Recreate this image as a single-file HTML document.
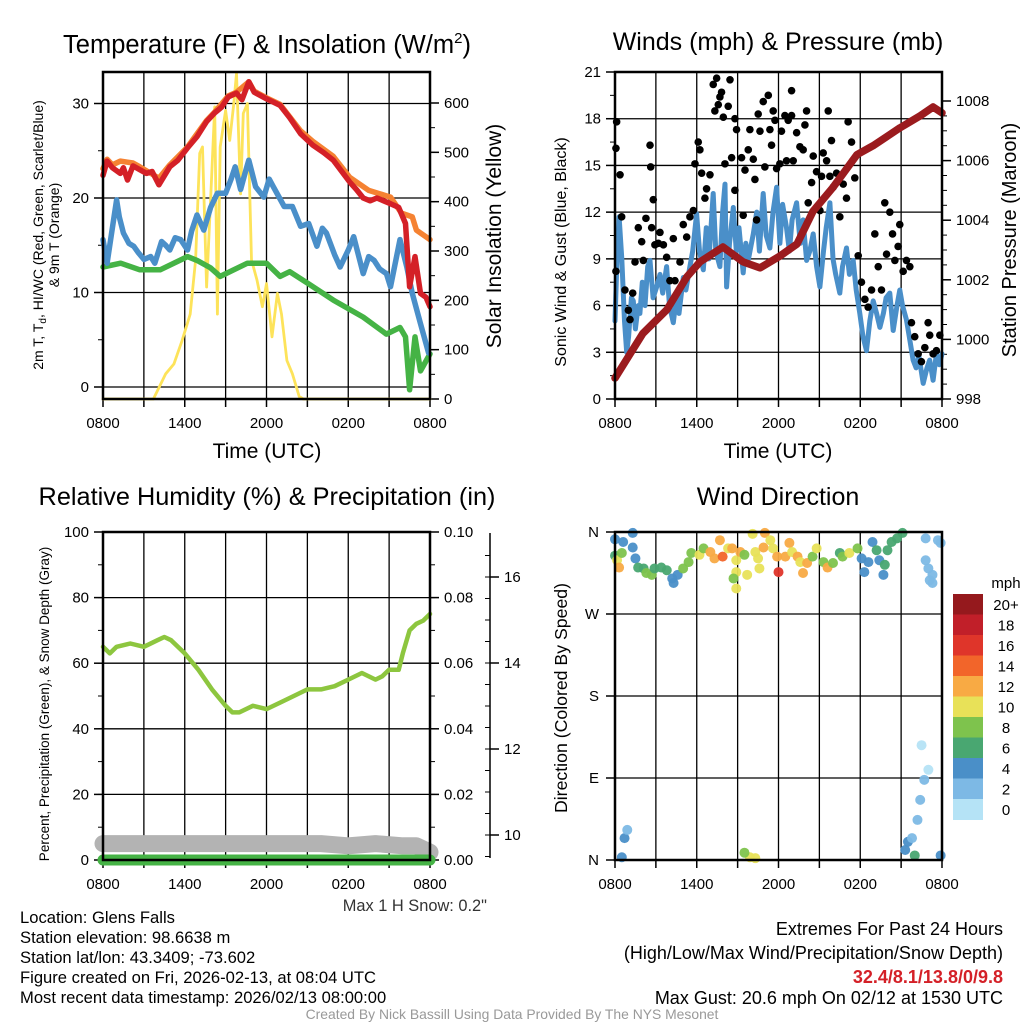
<!DOCTYPE html>
<html><head><meta charset="utf-8"><style>
html,body{margin:0;padding:0;background:#fff;}
svg{display:block;font-family:"Liberation Sans",Arial,sans-serif;}
</style></head><body>
<svg id="c" width="1024" height="1024" viewBox="0 0 1024 1024"></svg>
<script>
// ---------- DATA ----------
const tHours=[0,0.3,0.7,1.27,1.5,1.8,2.2,2.7,3.2,3.6,4.1,4.9,5.5,6.2,6.9,7.6,8.2,8.7,9.2,9.8,10.2,10.7,11.1,12,13,13.7,14.5,15.4,16.2,16.9,18.1,18.6,19.1,19.6,20.1,21.1,21.7,22.2,22.5,22.9,23.3,23.7,24];
const tempRed=[22.4,23.9,23.2,22.6,23.2,21.9,23.4,23,22.6,22.8,21.4,23.3,24,25.3,26.5,28.1,29,29.6,30.7,31.1,30.4,32.3,31.2,30.5,29.8,28.5,26.8,25.6,24.8,24,21.7,20.9,20,19.7,20,19.4,19,17.3,10.6,13.8,9.9,9.5,8.5];
const oHours=[0,0.3,0.7,1.27,2.2,2.7,4.1,4.9,6.2,7.6,8.2,9.2,9.8,10.7,11.1,12,13,14.5,15.4,16.9,18.1,19.5,21.1,21.9,22.7,23,24];
const temp9m=[23.1,24.1,23.5,23.9,23.7,23.3,22.1,23.5,25.4,28.2,29.1,30.8,31.2,32.3,31.3,30.6,29.9,27.1,26,24.4,22.2,20.8,20.1,18.4,18,16.6,15.6];
const dHours=[0,0.3,0.6,1,1.2,1.5,1.9,2.25,2.6,3,3.5,3.8,4.3,4.6,4.9,5.3,5.7,6.2,6.5,6.9,7.4,7.9,8.4,9,9.4,9.7,10.1,10.4,10.7,11.2,11.8,12.2,12.5,13.3,13.9,14.5,15.1,15.7,16.1,16.4,17,17.4,18,18.4,19.1,19.5,19.9,20.3,20.8,21.1,21.8,22.3,22.7,23.3,23.9];
const dewBlue=[15.6,13.1,16,19.8,18,16.3,15.2,14.9,14.2,13.5,13.8,13.1,15.4,15,14.5,15.8,15.6,14.5,16.5,18.2,16.6,19,20.5,20.5,22,23.3,20.9,22.5,24,21.2,20.1,22,21.2,19.1,19.1,17,17.3,14.9,16.8,16.3,14,12.7,14.5,15.9,12,13.8,13.4,12.5,12,10.6,15.6,12.7,9.9,6.7,3.6];
const gHours=[0,1.3,2.7,4.2,6.2,6.9,7.9,8.6,10.6,12,13,13.7,15,16.9,19.1,20.8,21.8,22.2,22.5,22.9,23.3,24];
const windChill=[12.7,13.1,12.4,12.4,13.8,13.4,12.6,11.7,13.1,13.1,11.7,12.2,11,9.2,7.4,5.6,6.3,5.3,-0.3,5.3,1.7,3.5];
const sHours=[0,3.7,4.6,5.2,5.8,6.4,6.8,7.1,7.3,7.6,7.9,8.2,8.4,8.6,9,9.3,9.6,9.8,10.1,10.3,10.6,10.9,11.3,11.7,12,12.4,12.8,13.1,13.5,13.9,14.4,14.7,24];
const solar=[0,0,51,71,118,172,282,498,511,227,403,592,172,511,585,524,599,660,416,579,599,282,241,187,234,126,214,172,78,51,5,0,0];
const p1LeftTicks=[0,10,20,30];
const p1RightTicks=[0,100,200,300,400,500,600];
const timeLabels=["0800","1400","2000","0200","0800"];

const wHours=[0,0.15,0.3,0.5,0.7,0.86,1.0,1.2,1.34,1.5,1.7,1.83,2.0,2.2,2.4,2.57,2.8,3.06,3.3,3.5,3.79,4.0,4.28,4.5,4.7,5.01,5.2,5.5,5.7,5.99,6.2,6.48,6.7,6.9,7.21,7.4,7.7,7.9,8.07,8.19,8.4,8.68,8.9,9.1,9.41,9.6,9.8,10.15,10.4,10.6,10.88,11.1,11.37,11.6,11.86,12.1,12.3,12.59,12.8,13.0,13.33,13.6,13.8,14.06,14.3,14.55,14.8,15.04,15.3,15.5,15.77,16.0,16.2,16.5,16.7,16.99,17.2,17.48,17.7,17.97,18.2,18.46,18.7,18.95,19.2,19.44,19.7,19.9,20.17,20.42,20.7,20.9,21.1,21.39,21.6,21.88,22.1,22.3,22.62,22.9,23.1,23.35,23.59,23.8,24];
const windBlue=[5,9,11.7,9,5,3,4,6.5,6.3,4.5,6,5.5,7.5,6,8.5,8.9,6.5,7.2,8,6.8,8.5,6,4.9,6.5,5.5,7.8,7,8.5,9.5,11.9,9.5,8.3,11,9,13.2,9.5,8.5,12,13.8,7.2,10,12.3,9.5,11,8.1,10,9,10.6,12,9.5,13.2,10.5,9.7,12,13.6,10,12.5,11,9.5,11.5,12.6,10,11.5,8.9,9.5,10.6,8.5,7.2,9.5,11,12.6,9,8,6.8,8.5,9.7,8,8.9,7,5.5,4,3.1,5,6.3,5.5,4.6,5.5,6.5,6.8,4.4,6,7,6,5.1,4,2.5,2,2.8,1,2,2.5,1.2,2.9,2.2,2.9];
const gustHours=[0.12,0.07,0.37,0.49,0.07,0.73,0.98,1.1,1.3,1.47,1.71,1.96,2.08,2.27,2.57,2.62,2.69,2.81,2.93,3.18,3.3,3.55,3.79,4.03,4.28,4.4,4.77,5.01,5.26,5.5,5.75,5.87,6.11,6.23,6.36,6.6,6.72,6.97,7.21,7.46,7.33,7.58,7.82,7.7,7.95,8.07,8.31,8.44,8.56,8.8,8.8,8.92,9.29,9.41,9.54,9.78,9.9,10.15,10.27,10.39,10.51,10.64,10.88,11.0,11.25,11.37,11.49,11.61,11.74,11.86,12.1,12.22,12.47,12.59,12.71,12.96,12.96,13.08,13.33,13.57,13.81,13.94,14.06,14.18,14.43,14.55,14.79,15.04,15.16,15.28,15.53,15.65,15.77,15.89,16.01,16.26,16.5,16.75,16.99,17.11,17.36,17.6,17.85,18.09,18.34,18.58,18.83,19.07,19.32,19.56,19.8,19.93,20.17,20.37,20.54,20.78,20.9,21.15,21.39,21.64,21.76,22.0,22.25,22.49,22.74,22.98,23.1,23.35,23.59,23.84];
const gustBlack=[17.8,16.1,14.4,11.7,8.2,7.0,5.7,5.1,6.8,8.8,11.0,10.1,8.9,11.6,16.3,14.9,11.0,12.8,9.9,10.0,10.7,9.9,9.1,7.6,10.3,7.6,8.8,11.2,10.4,11.7,12.1,15.1,16.5,16.0,14.5,12.9,13.5,14.4,20.2,20.6,18.5,18.9,19.7,19.4,18.1,15.1,18.8,20.5,15.5,13.4,18.0,17.3,15.5,11.8,14.7,16.0,17.3,15.4,14.1,11.5,18.3,17.2,19.1,14.9,19.5,17.3,16.3,18.5,17.9,14.8,15.1,17.2,18.2,15.3,17.9,18.2,19.8,15.3,17.1,16.2,16.0,17.6,18.5,12.6,13.9,15.6,14.6,12.1,14.3,15.8,15.3,18.5,14.3,16.6,13.6,14.5,11.7,13.8,12.9,17.8,16.5,14.2,9.2,7.5,6.4,5.9,7.0,10.6,8.5,7.0,12.6,9.3,12.0,10.6,8.9,9.8,11.2,8.2,8.9,8.5,4.9,4.0,2.9,2.4,3.3,4.9,4.1,2.9,3.1,4.1];
const pHours=[0,2.05,3.82,5.28,6.24,7.93,9.4,10.64,12.11,13.36,14.53,16,17.76,18.94,20.92,22.39,23.35,24];
const pressure=[998.7,1000.2,1001,1002.1,1002.6,1003.1,1002.6,1002.4,1002.8,1003.2,1004.3,1005.1,1006.2,1006.5,1007.1,1007.5,1007.8,1007.6];
const p2LeftTicks=[0,3,6,9,12,15,18,21];
const p2RightTicks=[998,1000,1002,1004,1006,1008];

const rhHours=[0,0.5,1,2,3,4,4.5,5,6,7,8,9,9.5,10,11,12,13,14,15,16,17,18,19,20,20.5,21,21.7,22,22.5,23,23.5,24];
const rhGreen=[65,63,65,66,65,67,68,67,63,58,52,47,45,45,47,46,48,50,52,52,53,55,57,55,56,58,58,63,70,72,73,75];
const precipHours=[0,24];
const precip=[0,0];
const snowHours=[0,10,14,16,18,20,22,23,24];
const snowDepth=[9.8,9.8,9.8,9.8,9.75,9.8,9.75,9.75,9.6];
const p3LeftTicks=[0,20,40,60,80,100];
const p3RightTicks=[0,0.02,0.04,0.06,0.08,0.10];
const snowTicks=[10,12,14,16];

const dirHours=[0,0.6,1.3,0,0.15,0.3,0.5,1.3,1.5,1.7,2.1,2.3,2.7,2.9,3.4,3.8,4.2,4.3,4.6,5.0,5.4,5.6,6.2,6.5,7.0,7.3,7.7,7.9,8.3,8.6,8.9,8.9,8.7,8.9,9.2,9.5,9.7,10.1,10.3,10.6,10.5,11.0,10.9,11.4,11.6,11.9,12.0,12.5,12.8,13.0,13.4,13.6,13.8,14.1,14.5,14.8,15.3,15.6,16.0,16.5,16.7,17.2,17.8,18.1,18.3,18.6,18.9,19.2,19.4,19.7,19.8,20.0,20.3,20.7,21.1,22.8,23.7,23.9,22.8,23.0,23.3,23.1,23.3,0.7,0.9,0.5,9.9,9.5,10.3,21.3,21.5,21.8,22.2,22.4,22.5,22.7,22.0,23.9,23.0];
const dirDeg=[352,349,359,334,329,321,337,343,331,321,320,315,313,320,321,318,309,304,313,320,327,337,335,342,338,331,351,333,342,342,329,316,309,298,338,335,313,358,338,320,331,359,343,351,342,333,316,333,348,338,333,327,315,326,333,342,327,321,326,337,333,337,342,331,316,327,349,340,329,313,324,340,349,353,359,353,351,348,329,320,313,307,304,24,33,3,3,8,2,11,20,24,44,66,126,88,5,5,99];
const dirSpeed=[4,4,4,6,10,12,8,4,4,6,6,8,8,6,6,6,4,4,4,8,8,8,10,8,12,12,12,14,10,12,10,10,8,10,12,8,10,10,10,10,10,12,12,10,10,12,16,12,12,10,12,10,12,12,8,10,8,12,8,6,8,10,8,4,4,4,4,6,4,4,6,6,6,6,6,2,2,2,2,2,2,2,2,4,2,4,10,8,10,4,4,2,2,2,0,2,6,4,0];
const dirTickLabels=["N","E","S","W","N"];
const speedBins=["0","2","4","6","8","10","12","14","16","18","20+"];
const speedColors=["#b5e3f6","#7db9e5","#4a8fc8","#49a771","#7ec34d","#e8e158","#f8aa44","#f2652a","#df352a","#c11f29","#95191d"];

// ---------- DRAWING ----------
const NS="http://www.w3.org/2000/svg";
const svg=document.getElementById('c');
function el(tag,attrs,parent){const e=document.createElementNS(NS,tag);for(const k in attrs)e.setAttribute(k,attrs[k]);(parent||svg).appendChild(e);return e;}
function txt(s,x,y,size,anchor,parent,extra){const t=el('text',Object.assign({x:x,y:y,'font-size':size,'text-anchor':anchor||'middle',fill:'#000'},extra||{}),parent);t.textContent=s;return t;}
function scaleX(P){return h=>P.x0+h*(P.x1-P.x0)/24;}
function lin(d0,d1,r0,r1){return v=>r0+(v-d0)*(r1-r0)/(d1-d0);}
function pathFrom(xs,ys,fx,fy){return xs.map((h,i)=>(i?'L':'M')+fx(h).toFixed(1)+','+fy(ys[i]).toFixed(1)).join('');}

const P1={x0:103,x1:430,y0:72,y1:399},P2={x0:615,x1:942,y0:72,y1:399},P3={x0:103,x1:430,y0:532,y1:860},P4={x0:615,x1:942,y0:532,y1:860};

function frame(P,name,hLines){
  const g=el('g',{});
  
  
  const fx=scaleX(P);
  for(let h=3;h<24;h+=3){el('line',{x1:fx(h),x2:fx(h),y1:P.y0,y2:P.y1,stroke:'#000','stroke-width':1.3},g);}
  hLines.forEach(y=>el('line',{x1:P.x0,x2:P.x1,y1:y,y2:y,stroke:'#000','stroke-width':1.3},g));
  for(let h=0;h<=24;h+=3){el('line',{x1:fx(h),x2:fx(h),y1:P.y1,y2:P.y1+8,stroke:'#000','stroke-width':1.5},g);}
  timeLabels.forEach((s,i)=>{const t=txt(s,fx(i*6),P.y1+29,15,'middle');});
  return g;
}
function border(P,name){const r=el('rect',{x:P.x0,y:P.y0,width:P.x1-P.x0,height:P.y1-P.y0,fill:'none',stroke:'#000','stroke-width':2.5});}
function leftTicks(P,ticks,fy,fmt,minorStep){
  ticks.forEach(v=>{el('line',{x1:P.x0-9,x2:P.x0,y1:fy(v),y2:fy(v),stroke:'#000','stroke-width':1.5});const t=txt(fmt(v),P.x0-14,fy(v)+5,15,'end');});
  if(minorStep){for(let v=ticks[0];v<=ticks[ticks.length-1];v+=minorStep){el('line',{x1:P.x0-5,x2:P.x0,y1:fy(v),y2:fy(v),stroke:'#000','stroke-width':1});}}
}
function rightTicks(P,ticks,fy,fmt,minorStep){
  ticks.forEach(v=>{el('line',{x1:P.x1,x2:P.x1+9,y1:fy(v),y2:fy(v),stroke:'#000','stroke-width':1.5});const t=txt(fmt(v),P.x1+14,fy(v)+5,15,'start');});
  if(minorStep){const a=ticks[0],b=ticks[ticks.length-1];for(let v=a;v<=b+1e-9;v+=minorStep){el('line',{x1:P.x1,x2:P.x1+5,y1:fy(v),y2:fy(v),stroke:'#000','stroke-width':1});}}
}
function series(d,color,w,name,op){const p=el('path',{d:d,fill:'none',stroke:color,'stroke-width':w,'stroke-linejoin':'round','stroke-linecap':'round','stroke-opacity':op||1});return p;}

// ===== Panel 1 =====
{
  const fx=scaleX(P1), fy=lin(0,30,387,103.5), fr=lin(0,600,399,103);
  frame(P1,'temperature-panel',p1LeftTicks.map(fy));
  leftTicks(P1,p1LeftTicks,fy,v=>String(v),5);
  rightTicks(P1,p1RightTicks,fr,v=>String(v),50);
  series(pathFrom(sHours,solar,fx,fr),'#fde35a',2.8,'solar-insolation-line');
  series(pathFrom(gHours,windChill,fx,fy),'#45b345',5.5,'wind-chill-line');
  series(pathFrom(dHours,dewBlue,fx,fy),'#4a8fc9',5.5,'dewpoint-line');
  series(pathFrom(oHours,temp9m,fx,fy),'#f58232',5.5,'temp-9m-line');
  series(pathFrom(tHours,tempRed,fx,fy),'#d42027',5.5,'temp-2m-line');
  border(P1,'temperature-panel');
  const t=el('text',{x:267,y:53,'font-size':25.5,'text-anchor':'middle'});
  t.innerHTML='Temperature (F) &amp; Insolation (W/m<tspan dy="-10" font-size="15">2</tspan><tspan dy="10">)</tspan>';
  const xl=txt('Time (UTC)',267,458,21,'middle');
  const yl=el('text',{transform:'translate(43,235) rotate(-90)','font-size':14,'text-anchor':'middle'});
  yl.innerHTML='2m T, T<tspan dy="3" font-size="10">d</tspan><tspan dy="-3">, HI/WC (Red, Green, Scarlet/Blue)</tspan>';
  const yl2=txt('& 9m T (Orange)',0,0,14,'middle',null,{transform:'translate(59,235) rotate(-90)'});
  const yr=txt('Solar Insolation (Yellow)',0,0,21,'middle',null,{transform:'translate(501,236) rotate(-90)'});
}
// ===== Panel 2 =====
{
  const fx=scaleX(P2), fy=lin(0,21,399,72), fr=lin(998,1008,399,101);
  frame(P2,'winds-panel',p2LeftTicks.map(fy));
  leftTicks(P2,p2LeftTicks,fy,v=>String(v),1.5);
  rightTicks(P2,p2RightTicks,fr,v=>String(v),0.5);
  series(pathFrom(wHours,windBlue,fx,fy),'#4a8fc9',5,'sonic-wind-line');
  const g=el('g',{});
  gustHours.forEach((h,i)=>{const c=el('circle',{cx:fx(h),cy:fy(gustBlack[i]),r:3.8,fill:'#000'},g);});
  series(pathFrom(pHours,pressure,fx,fr),'#9b1b1e',7.5,'pressure-line');
  border(P2,'winds-panel');
  const t=txt('Winds (mph) & Pressure (mb)',778,50,25,'middle');
  const xl=txt('Time (UTC)',778,458,21,'middle');
  const yl=txt('Sonic Wind & Gust (Blue, Black)',0,0,16,'middle',null,{transform:'translate(566,252) rotate(-90)'});
  const yr=txt('Station Pressure (Maroon)',0,0,20,'middle',null,{transform:'translate(1016,240) rotate(-90)'});
}
// ===== Panel 3 =====
{
  const fx=scaleX(P3), fy=lin(0,100,860,532), fr=lin(0,0.1,860,532), fs=lin(10,16,835,577);
  frame(P3,'humidity-panel',p3LeftTicks.map(fy));
  leftTicks(P3,p3LeftTicks,fy,v=>String(v),10);
  rightTicks(P3,p3RightTicks,fr,v=>v.toFixed(2),0.01);
  const ax=el('line',{x1:490,x2:490,y1:533,y2:858,stroke:'#000','stroke-width':1.5});
  snowTicks.forEach(v=>{el('line',{x1:490,x2:499,y1:fs(v),y2:fs(v),stroke:'#000','stroke-width':1.5});const t=txt(String(v),504,fs(v)+5,15,'start');});
  for(let v=9.5;v<=16.5;v+=0.5){if(fs(v)>=533&&fs(v)<=858)el('line',{x1:485,x2:490,y1:fs(v),y2:fs(v),stroke:'#000','stroke-width':1});}
  series(pathFrom(snowHours,snowDepth,fx,fs),'#b3b3b3',17,'snow-depth-line');
  series(pathFrom(precipHours,precip,fx,fr),'#45b345',11,'precipitation-line');
  el('line',{x1:P3.x0,x2:P3.x1,y1:860,y2:860,stroke:'#000','stroke-width':1.5});
  series(pathFrom(rhHours,rhGreen,fx,fy),'#8dc63f',4.5,'relative-humidity-line');
  border(P3,'humidity-panel');
  const t=txt('Relative Humidity (%) & Precipitation (in)',267,505,25.3,'middle');
  const yl=txt('Percent, Precipitation (Green), & Snow Depth (Gray)',0,0,13.5,'middle',null,{transform:'translate(49,704) rotate(-90)'});
  const ms=txt('Max 1 H Snow: 0.2"',487,911,16.4,'end',null,{fill:'#333'});
}
// ===== Panel 4 =====
{
  const fx=scaleX(P4), fy=lin(0,360,860,532);
  const dirTicks=[0,90,180,270,360];
  frame(P4,'direction-panel',dirTicks.map(fy));
  dirTicks.forEach((v,i)=>{el('line',{x1:P4.x0-9,x2:P4.x0,y1:fy(v),y2:fy(v),stroke:'#000','stroke-width':1.5});const t=txt(dirTickLabels[i],P4.x0-16,fy(v)+5,15,'end');});
  const g=el('g',{});
  dirHours.forEach((h,i)=>{const b=Math.min(10,Math.round(dirSpeed[i]/2));const c=el('circle',{cx:fx(h),cy:fy(dirDeg[i]),r:5,fill:speedColors[b],'fill-opacity':0.95},g);});
  border(P4,'direction-panel');
  const t=txt('Wind Direction',778,505,25,'middle');
  const yl=txt('Direction (Colored By Speed)',0,0,17.7,'middle',null,{transform:'translate(567,698) rotate(-90)'});
  const lg=el('g',{});
  const mt=txt('mph',1006,588,15,'middle',lg);
  const bh=20.5, top=594;
  for(let i=0;i<speedBins.length;i++){const k=speedBins.length-1-i;const r=el('rect',{x:953,y:top+i*bh,width:30,height:bh+0.5,fill:speedColors[k]},lg);
    const l=txt(speedBins[k],1006,top+i*bh+16,15,'middle',lg);}
}
// ===== Footer text =====
{
  const info=["Location: Glens Falls","Station elevation: 98.6638 m","Station lat/lon: 43.3409; -73.602","Figure created on Fri, 2026-02-13, at 08:04 UTC","Most recent data timestamp: 2026/02/13 08:00:00"];
  info.forEach((s,i)=>{const t=txt(s,20,923+i*20,16.6,'start');});
  const a=txt('Extremes For Past 24 Hours',1003,935,18,'end');
  const b=txt('(High/Low/Max Wind/Precipitation/Snow Depth)',1003,959,18,'end');
  const c=txt('32.4/8.1/13.8/0/9.8',1003,983,18,'end',null,{fill:'#d42027','font-weight':'bold'});
  const d=txt('Max Gust: 20.6 mph On 02/12 at 1530 UTC',1003,1004,18,'end');
  const e=txt('Created By Nick Bassill Using Data Provided By The NYS Mesonet',512,1019,13.9,'middle',null,{fill:'#999'});
}
</script>
</body></html>
